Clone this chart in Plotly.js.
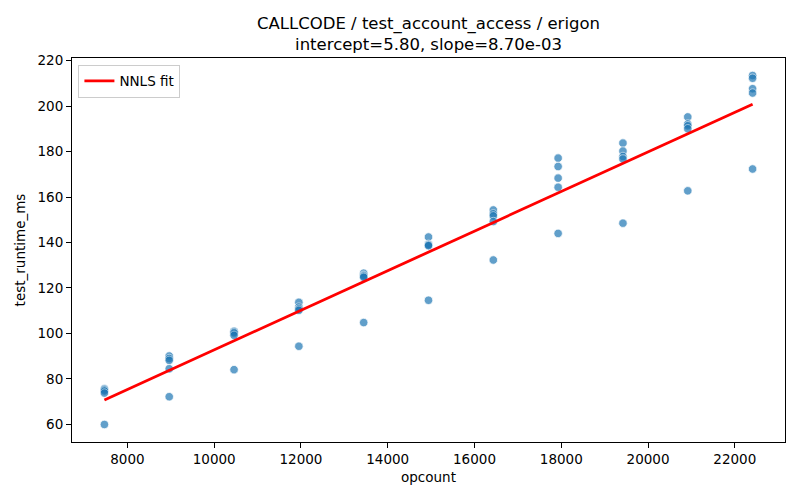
<!DOCTYPE html>
<html>
<head>
<meta charset="utf-8">
<script src="https://cdn.plot.ly/plotly-3.0.1.min.js"></script>
<style>
  html, body { margin: 0; padding: 0; background: #fff; }
  #chart { width: 800px; height: 500px; }
</style>
</head>
<body>
<div id="chart"></div>
<script>
// opcount levels and the test_runtime_ms samples measured at each level
const opcountLevels = [7470, 8964, 10458, 11952, 13446, 14940, 16434, 17928, 19422, 20916, 22410];
const runtimeMs = [
  [75.7, 75.2, 74.7, 73.8, 60.0],
  [90.1, 89.0, 88.2, 84.5, 72.2],
  [101.0, 100.6, 100.2, 99.2, 84.1],
  [113.7, 111.6, 110.8, 110.2, 94.4],
  [126.5, 125.6, 125.2, 124.7, 104.8],
  [142.4, 139.2, 138.9, 138.6, 114.6],
  [154.3, 152.6, 151.7, 149.2, 132.3],
  [177.1, 173.4, 168.3, 164.3, 144.0],
  [183.7, 180.2, 177.8, 176.7, 148.5],
  [195.2, 192.1, 191.3, 190.0, 162.7],
  [213.4, 212.2, 207.6, 205.7, 172.3],
];
const intercept = 5.80;
const slope = 8.70e-3;

const FONT = 'DejaVu Sans, sans-serif';

const xs = [], ys = [];
opcountLevels.forEach((x, i) => {
  for (const y of runtimeMs[i]) { xs.push(x); ys.push(y); }
});

const fitX = [Math.min(...opcountLevels), Math.max(...opcountLevels)];
const fitY = fitX.map((x) => intercept + slope * x);

const traces = [
  {
    x: xs, y: ys, mode: 'markers', type: 'scatter', showlegend: false,
    marker: { color: '#1f77b4', size: 8.5, opacity: 0.7, line: { color: '#ffffff', width: 0.75 } },
  },
  {
    x: fitX, y: fitY, mode: 'lines', type: 'scatter', name: 'NNLS fit',
    line: { color: '#ff0000', width: 2.8 },
  },
];

const axisCommon = {
  showgrid: false, zeroline: false,
  showline: true, linecolor: '#000', linewidth: 1, mirror: true,
  ticks: 'outside', ticklen: 5, tickwidth: 1, tickcolor: '#000',
  tickfont: { family: FONT, size: 13.5, color: '#000' },
};

const layout = {
  width: 800, height: 500,
  margin: { l: 72, r: 15, t: 58, b: 58 },
  paper_bgcolor: '#fff', plot_bgcolor: '#fff',
  font: { family: FONT, color: '#000' },
  title: {
    text: `CALLCODE / test_account_access / erigon<br>intercept=${intercept.toFixed(2)}, slope=${slope.toExponential(2).replace('e-3', 'e-03')}`,
    font: { family: FONT, size: 16.5, color: '#000' },
    x: 0.5, xref: 'paper', xanchor: 'center',
    y: 1 - 29 / 500, yref: 'container', yanchor: 'middle',
  },
  xaxis: {
    ...axisCommon,
    range: [6723, 23157], dtick: 2000, tick0: 0, tickformat: 'd',
    title: { text: 'opcount', font: { family: FONT, size: 13.5, color: '#000' }, standoff: 6 },
  },
  yaxis: {
    ...axisCommon,
    range: [52.3, 221.1], dtick: 20, tick0: 0,
    title: { text: 'test_runtime_ms', font: { family: FONT, size: 13.5, color: '#000' }, standoff: 8 },
  },
  showlegend: true,
  legend: {
    x: 0.009, y: 0.983, xanchor: 'left', yanchor: 'top',
    bgcolor: 'rgba(255,255,255,0.8)', bordercolor: '#cccccc', borderwidth: 1,
    font: { family: FONT, size: 13.5, color: '#000' },
  },
};

Plotly.newPlot('chart', traces, layout, { displayModeBar: false, staticPlot: true });
</script>
</body>
</html>
